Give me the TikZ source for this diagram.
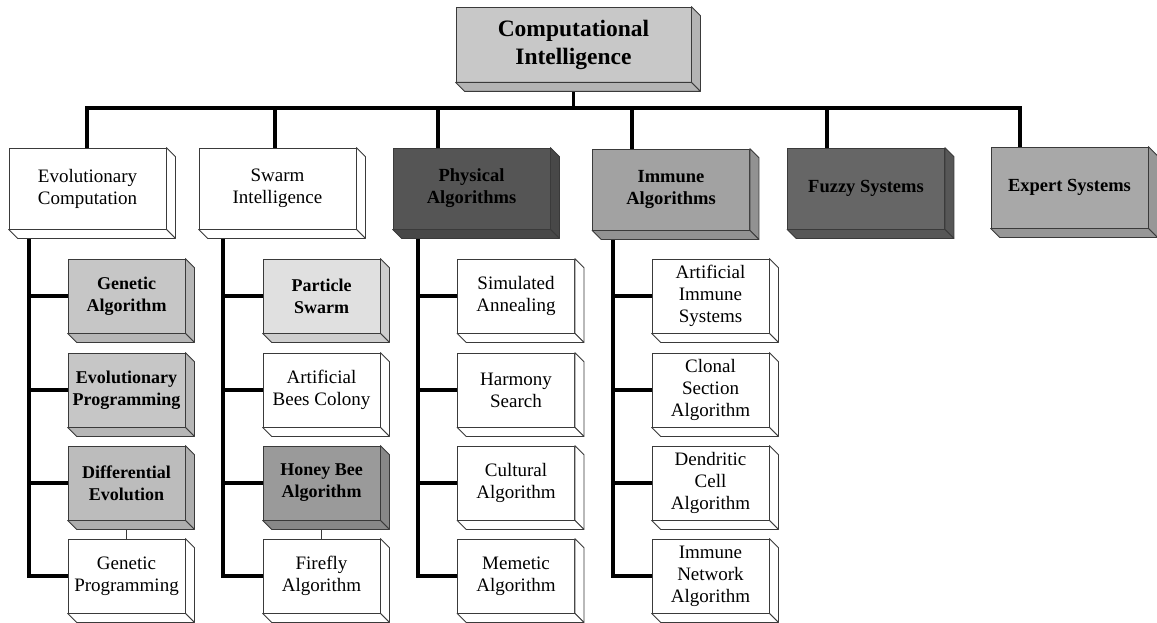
\documentclass[tikz,border=0pt]{standalone}
\usepackage{fontspec}
\setmainfont{Liberation Serif}
\usetikzlibrary{calc}
\pgfdeclarelayer{background}
\pgfsetlayers{background,main}

% colours of the box faces
\definecolor{topgray}{HTML}{C8C8C8}
\definecolor{darkgray}{HTML}{555555}
\definecolor{midgray}{HTML}{A2A2A2}
\definecolor{fuzzygray}{HTML}{666666}
\definecolor{expertgray}{HTML}{A8A8A8}
\definecolor{lightgray}{HTML}{C6C6C6}
\definecolor{palegray}{HTML}{E0E0E0}
\definecolor{beegray}{HTML}{9A9A9A}
\definecolor{edge}{HTML}{3A3A3A}

\tikzset{
  box/.style={draw=edge, line width=0.8pt, rectangle, align=center, inner sep=0pt},
  topbox/.style={box, minimum width=235pt, minimum height=75pt,
    font=\fontsize{23.5}{28}\selectfont\bfseries},
  mainbox/.style={box, minimum width=157pt, minimum height=81pt,
    font=\fontsize{19}{22}\selectfont},
  mainbold/.style={mainbox, font=\fontsize{18.5}{22}\selectfont\bfseries},
  subbox/.style={box, minimum width=117pt, minimum height=74pt,
    font=\fontsize{19}{22}\selectfont},
  subbold/.style={subbox, font=\fontsize{18}{22}\selectfont\bfseries},
  trunk/.style={line width=3.4pt, line cap=rect},
  twig/.style={line width=0.7pt, draw=edge},
}

% 3-D slab below and right of a box: #1 node name, #2 face colour
\newcommand\slab[2]{%
  \filldraw[fill=#2, draw=edge, line width=0.8pt, line join=round]
    (#1.north east) -- ++(9,9) -- ([shift={(9,9)}]#1.south east)
    -- (#1.south east) -- cycle;
  \filldraw[fill=#2, draw=edge, line width=0.8pt, line join=round]
    (#1.south west) -- (#1.south east) -- ([shift={(9,9)}]#1.south east)
    -- ([shift={(9,9)}]#1.south west) -- cycle;
}

\begin{document}
\begin{tikzpicture}[x=1pt, y=-1pt]
\useasboundingbox (0,0) rectangle (1157,623);

% root
\node[topbox, fill=topgray] (ci) at (573.5,44.5) {Computational\\Intelligence};
\slab{ci}{topgray!90!black}

% first level
\node[mainbox, fill=white] (ev) at (87.5,188.5) {Evolutionary\\Computation};
\slab{ev}{white}
\node[mainbox, fill=white] (sw) at (277.5,188.5) {Swarm\\Intelligence};
\slab{sw}{white}
\node[mainbold, fill=darkgray] (ph) at (471.5,188.5) {Physical\\Algorithms};
\slab{ph}{darkgray!85!black}
\node[mainbold, fill=midgray] (im) at (671,189.5) {Immune\\Algorithms};
\slab{im}{midgray!90!black}
\node[mainbold, fill=fuzzygray] (fz) at (866,188.5) {Fuzzy Systems};
\slab{fz}{fuzzygray!85!black}
\node[mainbold, fill=expertgray] (ex) at (1069.5,187.5) {Expert Systems};
\slab{ex}{expertgray!90!black}

% evolutionary computation
\node[subbold, fill=lightgray] (ga) at (126.5,296) {Genetic\\Algorithm};
\slab{ga}{lightgray!92!black}
\node[subbold, fill=lightgray] (ep) at (126.5,390) {Evolutionary\\Programming};
\slab{ep}{lightgray!92!black}
\node[subbold, fill=lightgray!95!black] (de) at (126.5,483) {Differential\\Evolution};
\slab{de}{lightgray!88!black}
\node[subbox, fill=white] (gp) at (126.5,576) {Genetic\\Programming};
\slab{gp}{white}

% swarm intelligence
\node[subbold, fill=palegray] (ps) at (321.5,296) {Particle\\Swarm};
\slab{ps}{palegray!92!black}
\node[subbox, fill=white] (abc) at (321.5,390) {Artificial\\Bees Colony};
\slab{abc}{white}
\node[subbold, fill=beegray] (hb) at (321.5,483) {Honey Bee\\Algorithm};
\slab{hb}{beegray!88!black}
\node[subbox, fill=white] (ff) at (321.5,576) {Firefly\\Algorithm};
\slab{ff}{white}

% physical algorithms
\node[subbox, fill=white] (sa) at (516,296) {Simulated\\Annealing};
\slab{sa}{white}
\node[subbox, fill=white] (hs) at (516,390) {Harmony\\Search};
\slab{hs}{white}
\node[subbox, fill=white] (ca) at (516,483) {Cultural\\Algorithm};
\slab{ca}{white}
\node[subbox, fill=white] (ma) at (516,576) {Memetic\\Algorithm};
\slab{ma}{white}

% immune algorithms
\node[subbox, fill=white] (ais) at (710.5,296) {Artificial\\Immune\\Systems};
\slab{ais}{white}
\node[subbox, fill=white] (csa) at (710.5,390) {Clonal\\Section\\Algorithm};
\slab{csa}{white}
\node[subbox, fill=white] (dca) at (710.5,483) {Dendritic\\Cell\\Algorithm};
\slab{dca}{white}
\node[subbox, fill=white] (ina) at (710.5,576) {Immune\\Network\\Algorithm};
\slab{ina}{white}

\begin{pgfonlayer}{background}
  % horizontal bus under the root
  \coordinate (busL) at (87,108);
  \coordinate (busR) at (1020,108);
  \draw[trunk] (busL) -- (busR);
  \draw[trunk] (ci.south) -- (ci.south |- busL);
  \foreach \n/\x in {ev/87, sw/275, ph/438, im/632, fz/827, ex/1020}
    \draw[trunk] (\x,108) -- (\x,108 |- \n.north);

  % spines down each column
  \foreach \p/\x/\a/\b/\c/\d in {ev/29/ga/ep/de/gp, sw/223/ps/abc/hb/ff,
                                 ph/418/sa/hs/ca/ma, im/613/ais/csa/dca/ina} {
    \draw[trunk] (\x,200 |- \p.south) |- (\d.west);
    \draw[trunk] (\x,200 |- \a.west) -- (\a.west);
    \draw[trunk] (\x,200 |- \b.west) -- (\b.west);
    \draw[trunk] (\x,200 |- \c.west) -- (\c.west);
  }

  % thin links between stacked boxes
  \draw[twig] (de.south) -- (gp.north);
  \draw[twig] (hb.south) -- (ff.north);
\end{pgfonlayer}
\end{tikzpicture}
\end{document}
